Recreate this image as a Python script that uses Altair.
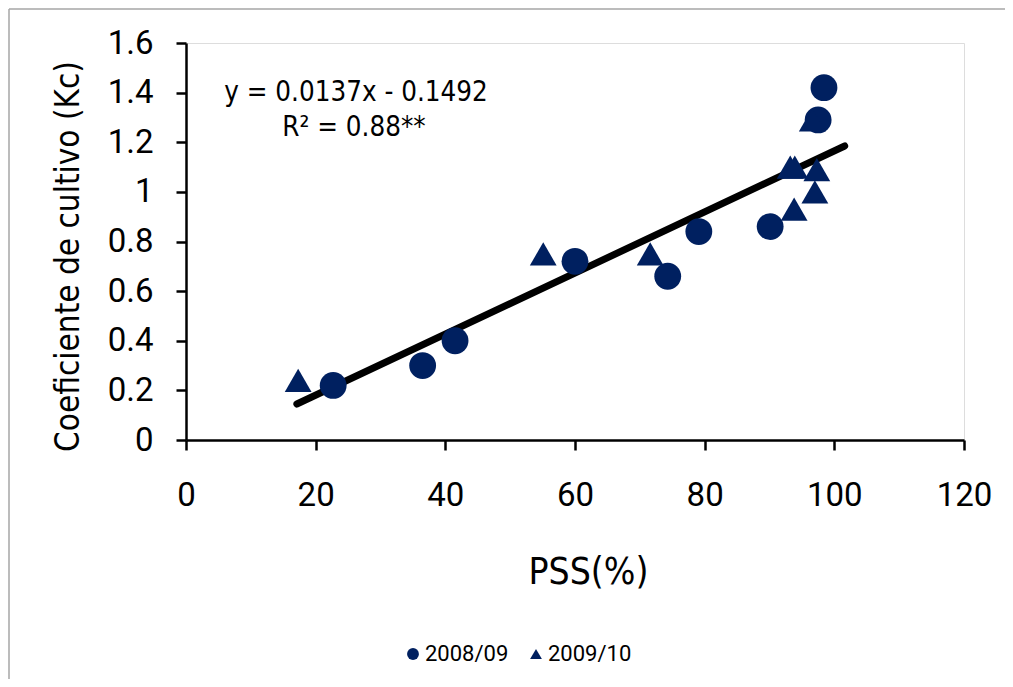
import altair as alt
import pandas as pd

# 2008/09 series (circles)
pss_0809 = [22.7, 36.5, 41.5, 60.0, 74.3, 79.1, 90.1, 97.5, 98.4]
kc_0809 = [0.22, 0.30, 0.40, 0.72, 0.66, 0.84, 0.86, 1.29, 1.42]

# 2009/10 series (triangles)
pss_0910 = [17.3, 55.1, 71.6, 93.2, 93.9, 97.3, 93.8, 97.0, 96.6]
kc_0910 = [0.24, 0.75, 0.75, 1.10, 1.10, 1.09, 0.93, 1.00, 1.29]

# trend line end points as drawn
trend_x = [17.1, 101.6]
trend_y = [0.145, 1.185]

series_names = ["2008/09", "2009/10"]
eq_line1 = "y = 0.0137x  - 0.1492"
eq_line2 = "R\u00b2 = 0.88**"

pts = pd.concat([
    pd.DataFrame({"PSS": pss_0809, "Kc": kc_0809, "Serie": series_names[0]}),
    pd.DataFrame({"PSS": pss_0910, "Kc": kc_0910, "Serie": series_names[1]}),
])
trend = pd.DataFrame({"PSS": trend_x, "Kc": trend_y})

NAVY = "#002060"
FONT = "DejaVu Sans Condensed, Roboto, sans-serif"
TICKFONT = "Roboto"

xscale = alt.Scale(domain=[0, 120], nice=False, zero=True)
yscale = alt.Scale(domain=[0, 1.6], nice=False, zero=True)

xaxis = alt.Axis(values=[0, 20, 40, 60, 80, 100, 120], title="PSS(%)", grid=False,
                 domainColor="black", domainWidth=2.5, tickColor="black", tickWidth=2.5,
                 tickSize=10, labelFont=TICKFONT, labelFontSize=33, labelColor="black",
                 labelPadding=29, titleFont=FONT, titleFontSize=37, titleFontWeight="normal",
                 titleColor="black", titlePadding=42, titleX=402, labelFlush=False)
yaxis = alt.Axis(values=[0, 0.2, 0.4, 0.6, 0.8, 1.0, 1.2, 1.4, 1.6], title="Coeficiente de cultivo (Kc)",
                 grid=False, domainColor="black", domainWidth=2.5, tickColor="black", tickWidth=2.5,
                 tickSize=10, labelFont=TICKFONT, labelFontSize=33, labelColor="black",
                 labelPadding=23, titleFont=FONT, titleFontSize=33, titleFontWeight="normal",
                 titleColor="black", titleX=-108, titleY=213, titleBaseline="alphabetic",
                 labelFlush=False, labelExpr="format(datum.value, '.1~f')")

points = alt.Chart(pts).mark_point(filled=True, opacity=1, size=720).encode(
    x=alt.X("PSS:Q", scale=xscale, axis=xaxis),
    y=alt.Y("Kc:Q", scale=yscale, axis=yaxis),
    shape=alt.Shape("Serie:N", scale=alt.Scale(domain=series_names, range=["circle", "triangle-up"]),
                    legend=alt.Legend(title=None, orient="none", direction="horizontal",
                                      legendX=216, legendY=600, labelFont=TICKFONT, labelFontSize=22,
                                      labelColor="black", symbolSize=140, symbolFillColor=NAVY,
                                      symbolStrokeColor=NAVY,
                                      columnPadding=16, labelOffset=1)),
    color=alt.value(NAVY),
)

line = alt.Chart(trend).mark_line(color="black", strokeWidth=7, strokeCap="round").encode(
    x=alt.X("PSS:Q", scale=xscale),
    y=alt.Y("Kc:Q", scale=yscale),
)

txt1 = alt.Chart(pd.DataFrame({"t": [eq_line1]})).mark_text(
    font=FONT, fontSize=27.5, color="black", align="center", baseline="middle"
).encode(text="t:N", x=alt.value(170), y=alt.value(50))
txt2 = alt.Chart(pd.DataFrame({"t": [eq_line2]})).mark_text(
    font=FONT, fontSize=27.5, color="black", align="center", baseline="middle"
).encode(text="t:N", x=alt.value(168), y=alt.value(85))

# thin grey outer frame of the chart area (top and left edges)
frame_top = alt.Chart(pd.DataFrame({"k": [0]})).mark_rule(color="#a6a6a6", strokeWidth=1.5).encode(
    x=alt.value(-177), x2=alt.value(827), y=alt.value(-34))
frame_left = alt.Chart(pd.DataFrame({"k": [0]})).mark_rule(color="#a6a6a6", strokeWidth=1.5).encode(
    x=alt.value(-177), y=alt.value(-34), y2=alt.value(640))

chart = alt.layer(frame_top, frame_left, line, points, txt1, txt2).properties(
    width=778, height=397,
    autosize=alt.AutoSizeParams(type="none"),
    padding={"left": 178, "top": 35, "right": 41, "bottom": 239},
).configure_view(stroke="black", strokeWidth=2.5).configure(background="white")

chart.save("out.html", embed_options={"renderer": "svg", "actions": False})
